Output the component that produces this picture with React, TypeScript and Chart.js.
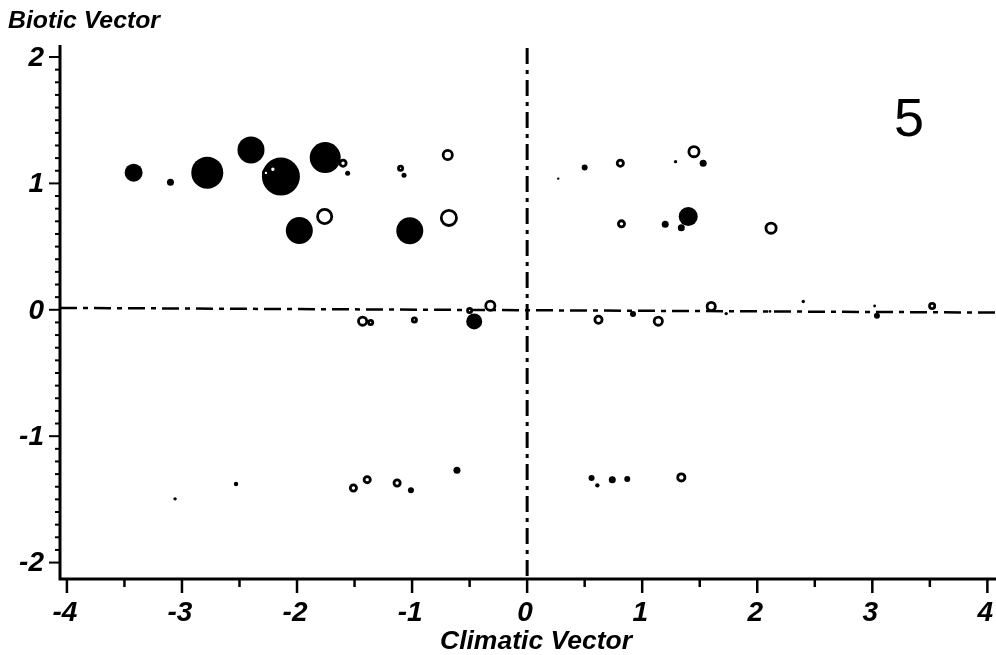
import React, { useEffect, useRef } from 'react';
import { Chart, registerables } from 'chart.js';

Chart.register(...registerables);

// Filled (solid) bubbles
const filledX = [-3.42, -3.10, -2.78, -2.40, -2.14, -1.755, -1.56, -1.98, -1.07, -1.02, 0.27, 0.50, 1.29, 1.53, 1.20, 1.40, 1.34, -0.46, 0.92, 1.73, 2.11, 2.40, 3.04, 3.02, -3.06, -2.53, -1.01, -0.61, 0.56, 0.61, 0.74, 0.87];
const filledY = [1.085, 1.01, 1.085, 1.265, 1.054, 1.204, 1.08, 0.627, 1.065, 0.625, 1.038, 1.125, 1.172, 1.16, 0.677, 0.738, 0.65, -0.092, -0.034, -0.03, -0.013, 0.066, -0.047, 0.03, -1.496, -1.378, -1.428, -1.27, -1.33, -1.389, -1.344, -1.338];
const filledSize = [9, 3.5, 16, 13.5, 19, 15.5, 2.5, 13.5, 2.5, 13.5, 1.2, 3, 1.7, 3.5, 3.5, 9.5, 3.5, 8, 3, 1.7, 1.4, 1.7, 3, 1.4, 1.7, 2.2, 3, 3.5, 3, 2.2, 3.5, 3];

// Open (hollow) bubbles
const openX = [-2.21, -2.27, -1.60, -1.76, -1.10, -0.69, -0.68, 0.81, 1.45, 0.82, 2.12, -1.43, -1.36, -0.98, -0.50, -0.32, 0.62, 1.14, 1.60, 3.52, -1.51, -1.39, -1.13, 1.34];
const openY = [1.112, 1.083, 1.16, 0.738, 1.12, 1.225, 0.727, 1.16, 1.251, 0.68, 0.646, -0.09, -0.10, -0.08, -0.006, 0.032, -0.079, -0.09, 0.026, 0.03, -1.41, -1.344, -1.37, -1.326];
const openSize = [4.5, 4, 4.5, 8.5, 3.5, 6, 9, 4.5, 6.5, 4.5, 6.5, 5.5, 3.5, 3.5, 3.5, 6, 5, 5.5, 5.5, 4, 4.5, 4.5, 4.5, 5];

const xTickLabels = ['-4', '-3', '-2', '-1', '0', '1', '2', '3', '4'];
const xTickValues = [-4, -3, -2, -1, 0, 1, 2, 3, 4];
const yTickLabels = ['2', '1', '0', '-1', '-2'];
const yTickValues = [2, 1, 0, -1, -2];

const X_MIN = -4.06;
const X_MAX = 4.075;
const Y_MIN = -2.13;
const Y_MAX = 2.095;
const REF_LEFT_Y = 0.015;
const REF_RIGHT_Y = -0.022;

const RING = 2.8;

const FONT = '"Liberation Sans", "DejaVu Sans", sans-serif';

function fitText(ctx: CanvasRenderingContext2D, text: string, cx: number, cy: number, w: number, font: string) {
  ctx.save();
  ctx.font = font;
  const m = ctx.measureText(text).width;
  ctx.translate(cx, cy);
  ctx.scale(w / m, 1);
  ctx.textAlign = 'center';
  ctx.textBaseline = 'middle';
  ctx.fillStyle = '#000';
  ctx.fillText(text, 0, 0);
  ctx.restore();
}

const decor = {
  id: 'decor',
  beforeDatasetsDraw(chart: any) {
    const ctx = chart.ctx as CanvasRenderingContext2D;
    const xs = chart.scales.x;
    const ys = chart.scales.y;
    const ca = chart.chartArea;
    ctx.save();
    ctx.strokeStyle = '#000';
    ctx.lineWidth = 3;
    ctx.setLineDash([16, 6, 4, 6]);
    const x0 = xs.getPixelForValue(0);
    ctx.beginPath();
    ctx.moveTo(x0, ca.top + 3);
    ctx.lineTo(x0, ca.bottom);
    ctx.stroke();
    ctx.lineWidth = 2.5;
    ctx.setLineDash([17, 6, 5, 6]);
    ctx.beginPath();
    ctx.moveTo(xs.getPixelForValue(X_MIN), ys.getPixelForValue(REF_LEFT_Y));
    ctx.lineTo(xs.getPixelForValue(X_MAX), ys.getPixelForValue(REF_RIGHT_Y));
    ctx.stroke();
    ctx.restore();
  },
  afterDraw(chart: any) {
    const ctx = chart.ctx as CanvasRenderingContext2D;
    const xs = chart.scales.x;
    const ys = chart.scales.y;
    const ca = chart.chartArea;
    ctx.save();
    ctx.strokeStyle = '#000';
    ctx.fillStyle = '#000';
    ctx.setLineDash([]);
    ctx.lineWidth = 3;
    ctx.beginPath();
    ctx.moveTo(ca.left, ca.top);
    ctx.lineTo(ca.left, ca.bottom);
    ctx.lineTo(ca.right, ca.bottom);
    ctx.stroke();
    ctx.lineWidth = 2;
    for (let i = -20; i <= 20; i++) {
      const v = i / 10;
      const py = ys.getPixelForValue(v);
      const len = i % 10 === 0 ? 11 : 5;
      ctx.beginPath();
      ctx.moveTo(ca.left, py);
      ctx.lineTo(ca.left - len, py);
      ctx.stroke();
    }
    ctx.lineWidth = 2.5;
    for (let i = -8; i <= 8; i++) {
      const v = i / 2;
      const px = xs.getPixelForValue(v);
      const len = i % 2 === 0 ? 14 : 8;
      ctx.beginPath();
      ctx.moveTo(px, ca.bottom);
      ctx.lineTo(px, ca.bottom + len);
      ctx.stroke();
    }
    ctx.font = `italic bold 28px ${FONT}`;
    ctx.textAlign = 'center';
    ctx.textBaseline = 'middle';
    xTickValues.forEach((v, i) => {
      ctx.fillText(xTickLabels[i], xs.getPixelForValue(v) - 2, ca.bottom + 34);
    });
    ctx.textAlign = 'right';
    yTickValues.forEach((v, i) => {
      ctx.fillText(yTickLabels[i], ca.left - 16, ys.getPixelForValue(v) + 1);
    });
    fitText(ctx, 'Biotic Vector', 84, 22, 152, `italic bold 23px ${FONT}`);
    fitText(ctx, 'Climatic Vector', 536, 642, 192, `italic bold 26px ${FONT}`);
    ctx.font = `54px ${FONT}`;
    ctx.textAlign = 'center';
    ctx.textBaseline = 'middle';
    ctx.fillText('5', 909, 121);
    ctx.restore();
  },
};

export default function App() {
  const ref = useRef<HTMLCanvasElement | null>(null);
  useEffect(() => {
    if (!ref.current) return;
    const openData = openX.map((x, i) => ({ x, y: openY[i], r: Math.max(openSize[i] - RING / 2, 0.5) }));
    const filledData = filledX.map((x, i) => ({ x, y: filledY[i], r: filledSize[i] }));
    const chart = new Chart(ref.current, {
      type: 'bubble',
      data: {
        datasets: [
          {
            label: 'open',
            data: openData,
            backgroundColor: '#fff',
            borderColor: '#000',
            borderWidth: RING,
          },
          {
            label: 'filled',
            data: filledData,
            backgroundColor: '#000',
            borderColor: '#000',
            borderWidth: 0,
          },
        ],
      },
      options: {
        responsive: false,
        animation: false,
        events: [],
        layout: { autoPadding: false, padding: { left: 60, top: 45, right: 0, bottom: 76 } },
        scales: {
          x: { type: 'linear', min: X_MIN, max: X_MAX, display: false },
          y: { type: 'linear', min: Y_MIN, max: Y_MAX, display: false },
        },
        plugins: {
          legend: { display: false },
          tooltip: { enabled: false },
        },
      },
      plugins: [decor],
    });
    return () => chart.destroy();
  }, []);
  return (
    <div style={{ position: 'fixed', left: 0, top: 0, width: 996, height: 655, background: '#fff' }}>
      <canvas ref={ref} width={996} height={655} style={{ display: 'block' }} />
    </div>
  );
}
